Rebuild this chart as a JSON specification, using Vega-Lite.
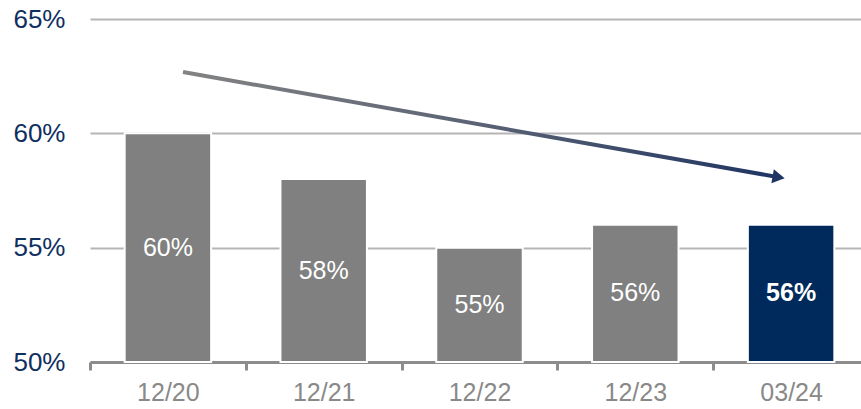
{
  "$schema": "https://vega.github.io/schema/vega-lite/v6.json",
  "width": 771,
  "height": 343,
  "autosize": {"type": "none"},
  "padding": {"left": 90, "top": 19, "right": 0, "bottom": 47},
  "background": "white",
  "config": {
    "view": {"stroke": null},
    "font": "Liberation Sans"
  },
  "datasets": {
    "bars": [
      {"period": "12/20", "value": 60, "label": "60%"},
      {"period": "12/21", "value": 58, "label": "58%"},
      {"period": "12/22", "value": 55, "label": "55%"},
      {"period": "12/23", "value": 56, "label": "56%"},
      {"period": "03/24", "value": 56, "label": "56%"}
    ],
    "arrow": [
      {"ax": 0.597, "ay": 62.68},
      {"ax": 4.42, "ay": 58.08}
    ],
    "head": [
      {"ax": 4.42, "ay": 58.08}
    ]
  },
  "layer": [
    {
      "data": {"name": "bars"},
      "layer": [
        {
          "mark": {"type": "bar", "stroke": "white", "strokeWidth": 2, "width": {"band": 0.555}},
          "encoding": {
            "x": {
              "field": "period", "type": "ordinal", "sort": null,
              "scale": {"range": [0, 779], "paddingInner": 0, "paddingOuter": 0},
              "axis": {
                "title": null, "labelAngle": 0, "labelFontSize": 25, "labelColor": "#898989",
                "labelFont": "Liberation Sans", "labelPadding": 10,
                "domainColor": "#8c8c8c", "domainWidth": 3,
                "tickBand": "extent", "tickColor": "#8c8c8c", "tickWidth": 3, "tickSize": 8
              }
            },
            "y": {
              "field": "value", "type": "quantitative",
              "scale": {"domain": [50, 65], "nice": false, "zero": false},
              "axis": {
                "title": null, "values": [50, 55, 60, 65], "labelExpr": "datum.value + '%'",
                "labelFontSize": 26, "labelColor": "#0f2f5f", "labelFont": "Liberation Sans",
                "labelPadding": 25, "domain": false, "ticks": false,
                "grid": true, "gridColor": "#b5b5b5", "gridWidth": 2
              }
            },
            "y2": {"datum": 50},
            "color": {
              "condition": {"test": "datum.period === '03/24'", "value": "#002a5c"},
              "value": "#808080"
            }
          }
        },
        {
          "transform": [
            {"filter": "datum.period !== '03/24'"},
            {"calculate": "(datum.value + 50) / 2", "as": "mid"}
          ],
          "mark": {"type": "text", "color": "white", "fontSize": 25, "font": "Liberation Sans", "baseline": "middle"},
          "encoding": {
            "x": {"field": "period", "type": "ordinal", "sort": null},
            "y": {"field": "mid", "type": "quantitative"},
            "text": {"field": "label"}
          }
        },
        {
          "transform": [
            {"filter": "datum.period === '03/24'"},
            {"calculate": "(datum.value + 50) / 2", "as": "mid"}
          ],
          "mark": {"type": "text", "color": "white", "fontSize": 25, "fontWeight": "bold", "font": "Liberation Sans", "baseline": "middle"},
          "encoding": {
            "x": {"field": "period", "type": "ordinal", "sort": null},
            "y": {"field": "mid", "type": "quantitative"},
            "text": {"field": "label"}
          }
        }
      ]
    },
    {
      "layer": [
        {
          "data": {"name": "arrow"},
          "mark": {
            "type": "line", "strokeWidth": 4,
            "stroke": {
              "gradient": "linear", "x1": 0, "y1": 0, "x2": 1, "y2": 0,
              "stops": [
                {"offset": 0, "color": "#838383"},
                {"offset": 0.5, "color": "#5a6274"},
                {"offset": 1, "color": "#1f3462"}
              ]
            }
          },
          "encoding": {
            "x": {"field": "ax", "type": "quantitative", "scale": {"domain": [0, 5], "range": [0, 779], "nice": false, "zero": false}, "axis": null},
            "y": {"field": "ay", "type": "quantitative"}
          }
        },
        {
          "data": {"name": "head"},
          "mark": {"type": "point", "shape": "triangle-right", "filled": true, "size": 200, "angle": 10, "color": "#1f3462", "opacity": 1},
          "encoding": {
            "x": {"field": "ax", "type": "quantitative", "scale": {"domain": [0, 5], "range": [0, 779], "nice": false, "zero": false}, "axis": null},
            "y": {"field": "ay", "type": "quantitative"}
          }
        }
      ]
    }
  ],
  "resolve": {"scale": {"x": "independent"}}
}
